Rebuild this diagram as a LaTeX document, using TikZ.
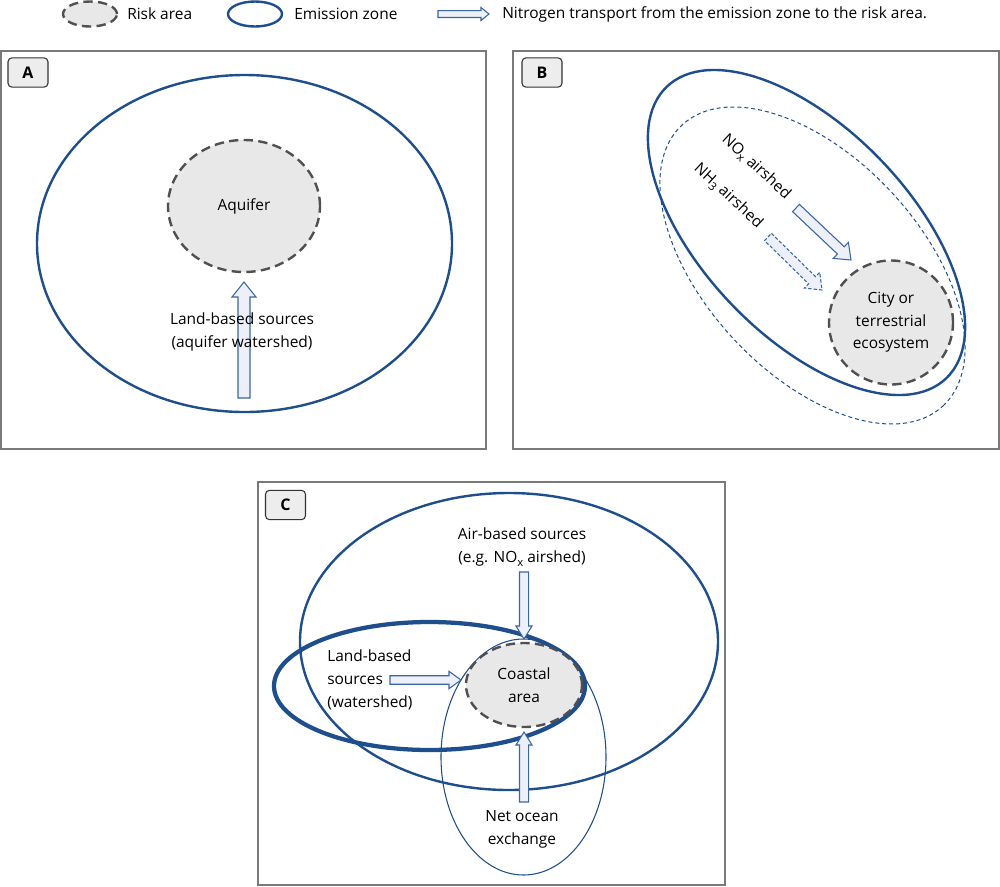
\documentclass[tikz,border=0pt]{standalone}
\usepackage{fontspec}
\setmainfont{Open Sans}
\usetikzlibrary{calc,shapes.geometric}
\definecolor{emis}{HTML}{1F4E8C}
\definecolor{arrline}{HTML}{3A66A3}
\definecolor{arrfill}{HTML}{EDF0F8}
\definecolor{riskfill}{HTML}{E8E8E8}
\definecolor{riskline}{HTML}{505050}
\definecolor{panelline}{HTML}{7A7A7A}
\newcommand\subx[1]{\raisebox{-0.45ex}{\fontsize{8.5}{8.5}\selectfont #1}}
\newcommand\blockarrow[6][]{%
  \path ($(#3)!#6!(#2)$) coordinate (babase);
  \draw[barrow,#1] ($(#2)!#4!90:(#3)$) -- ($(babase)!#4!-90:(#2)$) -- ($(babase)!#5!-90:(#2)$) -- (#3) -- ($(babase)!#5!90:(#2)$) -- ($(babase)!#4!90:(#2)$) -- ($(#2)!#4!-90:(#3)$) -- cycle;}
\begin{document}
\begin{tikzpicture}[x=0.75pt,y=0.75pt,
  every node/.style={font=\fontsize{11.6}{17}\selectfont},
  panel/.style={draw=panelline,line width=1.3pt},
  lab/.style={draw=black!80,fill=black!7,rounded corners=3pt,line width=0.8pt,minimum width=30pt,minimum height=22pt,inner sep=0pt,font=\fontsize{12}{14}\selectfont\bfseries},
  emzone/.style={ellipse,draw=emis,line width=1.8pt,inner sep=0pt,outer sep=0pt},
  riskarea/.style={ellipse,draw=riskline,fill=riskfill,line width=1.8pt,dash pattern=on 7pt off 4pt,inner sep=0pt,outer sep=0pt},
  barrow/.style={draw=arrline,fill=arrfill,line width=0.8pt,line join=miter},
  txt/.style={align=center,inner sep=0pt}]
\useasboundingbox (0,0) rectangle (1000,-886);
% ---------- legend ----------
\node[riskarea,minimum width=40.5pt,minimum height=18.75pt] (lgrisk) at (90,-14) {};
\node[anchor=west,inner sep=0pt] (lgrisktxt) at (127,-14) {Risk area};
\node[emzone,minimum width=40.5pt,minimum height=18.75pt] (lgemis) at (255,-14) {};
\node[anchor=west,inner sep=0pt] (lgemistxt) at (294,-14) {Emission zone};
\coordinate (lga1) at (438,-14);
\coordinate (lga2) at (489,-14);
\blockarrow{lga1}{lga2}{2.6pt}{4.9pt}{6pt}
\node[anchor=west,inner sep=0pt] (lgarrtxt) at (502,-14) {Nitrogen transport from the emission zone to the risk area.};
% ---------- panel A ----------
\draw[panel] (1,-51) rectangle (486,-449);
\node[lab] (labA) at (28,-72.5) {A};
\node[emzone,minimum width=311.25pt,minimum height=252.75pt] (emA) at (244.5,-243.5) {};
\node[riskarea,minimum width=114pt,minimum height=99pt] (aquifer) at (244,-206) {Aquifer};
\coordinate (a1) at (244,-398);
\coordinate (a2) at (244,-282);
\blockarrow{a1}{a2}{4.5pt}{9pt}{11.25pt}
\node[txt] (landA) at (242,-332) {Land-based sources\\(aquifer watershed)};
% ---------- panel B ----------
\draw[panel] (513,-51) rectangle (999,-449);
\node[lab] (labB) at (542,-72.5) {B};
\node[ellipse,draw=emis,line width=0.75pt,dash pattern=on 3pt off 2.2pt,minimum width=287.6pt,minimum height=161.7pt,inner sep=0pt,rotate=-47.1] (nh3) at (812.5,-265.5) {};
\node[emzone,minimum width=302.9pt,minimum height=155.7pt,rotate=-46.2] (emB) at (806.5,-232.5) {};
\node[riskarea,circle,minimum size=93pt,txt] (city) at (891,-322.5) {City or\\terrestrial\\ecosystem};
\coordinate (b1) at (796,-208);
\coordinate (b2) at (851,-260);
\blockarrow{b1}{b2}{3.75pt}{8.25pt}{10.5pt}
\coordinate (c1) at (768,-237);
\coordinate (c2) at (822,-290);
\blockarrow[dash pattern=on 2.5pt off 1.5pt]{c1}{c2}{3.75pt}{8.25pt}{10.5pt}
\node[inner sep=0pt,rotate=-43] (noxtxt) at (756,-167) {NO\subx{x} airshed};
\node[inner sep=0pt,rotate=-43] (nh3txt) at (728,-196) {NH\subx{3} airshed};
% ---------- panel C ----------
\draw[panel] (258,-482) rectangle (725,-885);
\node[lab] (labC) at (285.5,-505) {C};
\node[emzone,minimum width=313.5pt,minimum height=222.75pt] (air) at (509,-641.5) {};
\node[emzone,line width=3.2pt,minimum width=233.25pt,minimum height=96pt] (water) at (429.5,-686) {};
\node[emzone,line width=0.8pt,minimum width=123.75pt,minimum height=177pt] (ocean) at (523.5,-757) {};
\node[riskarea,minimum width=87pt,minimum height=63pt,txt] (coast) at (524,-685) {Coastal\\area};
\coordinate (d1) at (524,-572);
\coordinate (d2) at (524,-639);
\blockarrow{d1}{d2}{3.4pt}{6pt}{9.75pt}
\coordinate (e1) at (524,-802);
\coordinate (e2) at (524,-732);
\blockarrow{e1}{e2}{3.4pt}{6pt}{9.75pt}
\coordinate (f1) at (390,-680);
\coordinate (f2) at (461,-680);
\blockarrow{f1}{f2}{3.2pt}{6.5pt}{9pt}
\node[txt] (airtxt) at (522,-547) {Air-based sources\\(e.g. NO\subx{x} airshed)};
\node[txt,align=left,anchor=west] (landtxt) at (327,-680) {Land-based\\sources\\(watershed)};
\node[txt] (oceantxt) at (522,-829) {Net ocean\\exchange};
\end{tikzpicture}
\end{document}
